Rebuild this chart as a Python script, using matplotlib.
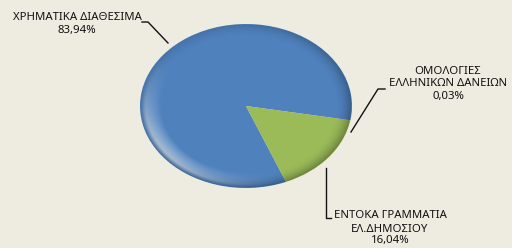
import matplotlib
matplotlib.use('Agg')
import matplotlib.pyplot as plt
from matplotlib.lines import Line2D
from matplotlib.patches import Circle
import numpy as np

# Dane
labels = ['ΧΡΗΜΑΤΙΚΑ ΔΙΑΘΕΣΙΜΑ', 'ΕΝΤΟΚΑ ΓΡΑΜΜΑΤΙΑ\nΕΛ.ΔΗΜΟΣΙΟΥ', 'ΟΜΟΛΟΓΙΕΣ\nΕΛΛΗΝΙΚΩΝ ΔΑΝΕΙΩΝ']
values = [83.94, 16.04, 0.03]
pct_labels = ['83,94%', '16,04%', '0,03%']
colors = ['#4f81bd', '#9bbb59', '#c0504d']

W, H = 512, 248
bg = '#eeece1'
plt.rcParams['font.family'] = ['Noto Sans', 'DejaVu Sans']

fig = plt.figure(figsize=(W / 100, H / 100), dpi=100, facecolor=bg)

# pie jako splaszczona elipsa
ax = fig.add_axes([140 / W, (H - 188) / H, 212 / W, 164 / H])
ax.set_facecolor('none')
wedges, _ = ax.pie(values, colors=colors, startangle=-10, counterclock=True,
                   wedgeprops=dict(linewidth=0))
ax.set_aspect('auto')
ax.set_xlim(-1, 1)
ax.set_ylim(-1, 1)
ax.axis('off')

# cieniowanie 3D (nakladka rgba)
n = 400
u, v = np.meshgrid(np.linspace(-1, 1, n), np.linspace(1, -1, n))
r = np.sqrt(u ** 2 + v ** 2)
ang = np.arctan2(v, u)
shade = np.zeros((n, n, 4))
edge = np.clip((r - 0.84) / 0.16, 0, 1) ** 2
# ciemna krawedz, mocniejsza na dole po prawej
dark = edge * (0.22 + 0.10 * np.cos(ang - np.radians(-40)))
# jasny refleks lewy dol
hl = np.clip((r - 0.80) / 0.15, 0, 1) * np.clip(1 - (r - 0.95) / 0.05, 0, 1)
hl = hl * np.clip(np.cos(ang - np.radians(215)), 0, 1) ** 3 * 0.55
alpha = np.clip(dark + hl, 0, 1)
white_frac = np.where(alpha > 0, hl / np.maximum(alpha, 1e-6), 0)
shade[..., 0] = white_frac
shade[..., 1] = white_frac
shade[..., 2] = white_frac
shade[..., 3] = np.where(r <= 1, alpha, 0)
im = ax.imshow(shade, extent=(-1, 1, -1, 1), zorder=5, interpolation='bilinear', aspect='auto')
im.set_clip_path(Circle((0, 0), 1, transform=ax.transData))


def px(x, y):
    return x / W, 1 - y / H


def leader(points):
    xs = [p[0] / W for p in points]
    ys = [1 - p[1] / H for p in points]
    fig.add_artist(Line2D(xs, ys, color='#111111', lw=1, transform=fig.transFigure))


def label_block(lines, cx, ys):
    for line, y in zip(lines, ys):
        fig.text(*px(cx, y), line, ha='center', va='center', fontsize=fs, color=tc,
                 fontweight='medium')


fs = 8.2
tc = '#111111'

# ΧΡΗΜΑΤΙΚΑ ΔΙΑΘΕΣΙΜΑ
label_block([labels[0], pct_labels[0]], 77, [17, 30])
leader([(142, 22), (148, 22), (168, 43)])

# ΟΜΟΛΟΓΙΕΣ
label_block(labels[2].split('\n') + [pct_labels[2]], 448, [72, 84, 96])
leader([(385, 89), (378, 89), (351, 132)])

# ΕΝΤΟΚΑ ΓΡΑΜΜΑΤΙΑ
label_block(labels[1].split('\n') + [pct_labels[1]], 390, [216, 229, 241])
leader([(326, 168), (326, 218), (331, 218)])

fig.savefig('out.png', dpi=100, facecolor=bg)
